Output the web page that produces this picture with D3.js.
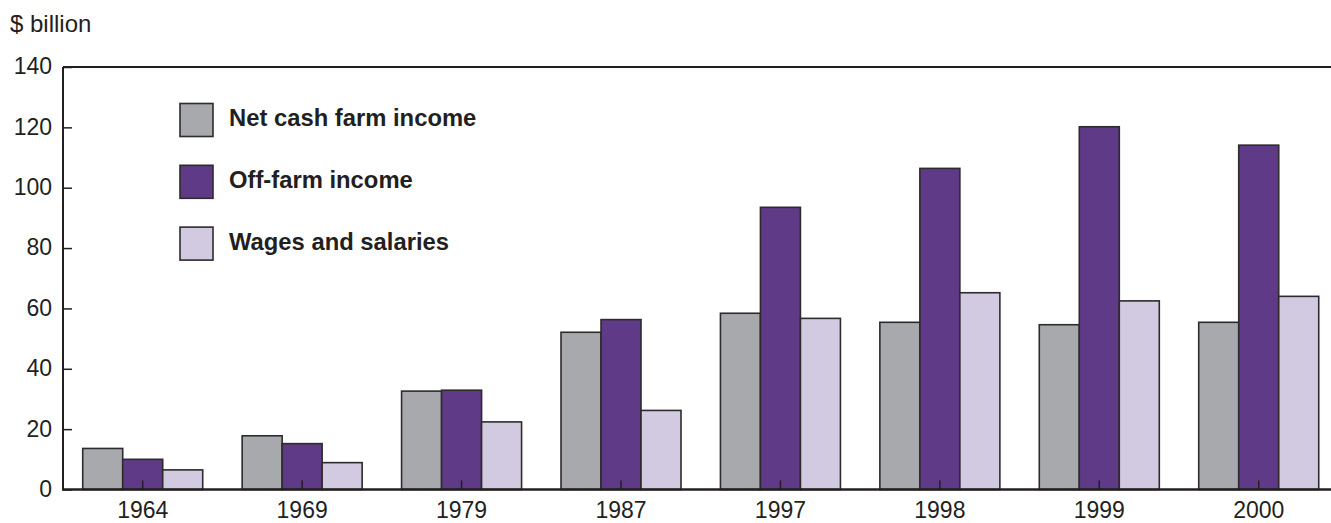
<!DOCTYPE html>
<html>
<head>
<meta charset="utf-8">
<script src="https://cdn.jsdelivr.net/npm/d3@7"></script>
<style>
  html, body { margin: 0; padding: 0; background: #fff; }
  svg { display: block; font-family: "Liberation Sans", Arial, Helvetica, sans-serif; }
</style>
</head>
<body>
<svg id="chart" width="1331" height="523"></svg>
<script>
const years = ["1964", "1969", "1979", "1987", "1997", "1998", "1999", "2000"];
const seriesNames = ["Net cash farm income", "Off-farm income", "Wages and salaries"];
const netCashFarmIncome = [13.6, 17.8, 32.6, 52.1, 58.4, 55.4, 54.6, 55.4];
const offFarmIncome     = [10.0, 15.2, 32.9, 56.3, 93.5, 106.4, 120.2, 114.1];
const wagesAndSalaries  = [6.5, 8.9, 22.4, 26.2, 56.7, 65.2, 62.5, 64.0];
const yTicks = [0, 20, 40, 60, 80, 100, 120, 140];
const colors = ["#a8a9ad", "#5e3a87", "#d2cae0"];

(function () {
const seriesValues = [netCashFarmIncome, offFarmIncome, wagesAndSalaries];
const data = years.map((yr, i) => ({
  year: yr,
  values: seriesNames.map((s, j) => ({ key: s, value: seriesValues[j][i], idx: j }))
}));

const svg = d3.select("#chart");
const mLeft = 63, mTop = 67, mBottom = 489.5;
const step = 159.43;
const mRight = mLeft + step * years.length;

const x0 = d3.scaleBand().domain(years).range([mLeft, mRight]).padding(0);
const groupW = 120;
const x1 = d3.scaleBand().domain(seriesNames)
  .range([(x0.bandwidth() - groupW) / 2, (x0.bandwidth() + groupW) / 2]).padding(0);
const y = d3.scaleLinear().domain([0, 140]).range([mBottom, mTop]);

const ink = "#231f20";

// bars
const groups = svg.append("g").selectAll("g").data(data).join("g")
  .attr("transform", d => `translate(${x0(d.year)},0)`);
groups.selectAll("rect").data(d => d.values).join("rect")
  .attr("x", d => x1(d.key))
  .attr("y", d => y(d.value))
  .attr("width", x1.bandwidth())
  .attr("height", d => y(0) - y(d.value))
  .attr("fill", d => colors[d.idx])
  .attr("stroke", "#2e2b2c")
  .attr("stroke-width", 1.6);

// y axis
const yAxis = d3.axisLeft(y).tickValues(yTicks).tickSize(-9).tickPadding(11).tickFormat(d3.format("d"));
const gy = svg.append("g").attr("transform", `translate(${mLeft},0)`).call(yAxis);
gy.select(".domain").remove();
gy.selectAll(".tick line").attr("stroke", ink).attr("stroke-width", 1.5);
gy.selectAll(".tick text").attr("x", -11).attr("fill", ink).style("font-size", "23px")
  .attr("dy", "0.3em");

// x axis
const xAxis = d3.axisBottom(x0).tickSize(-9).tickPadding(0);
const gx = svg.append("g").attr("transform", `translate(0,${mBottom})`).call(xAxis);
gx.select(".domain").remove();
gx.selectAll(".tick line").attr("stroke", ink).attr("stroke-width", 1.5);
gx.selectAll(".tick text").attr("fill", ink).style("font-size", "23px")
  .attr("y", 28.8).attr("dy", null);

// frame lines
svg.append("line").attr("x1", mLeft).attr("x2", 1331).attr("y1", mTop).attr("y2", mTop)
  .attr("stroke", ink).attr("stroke-width", 2);
svg.append("line").attr("x1", mLeft).attr("x2", mLeft).attr("y1", mTop).attr("y2", mBottom)
  .attr("stroke", ink).attr("stroke-width", 2);
svg.append("line").attr("x1", mLeft - 1).attr("x2", 1331).attr("y1", mBottom).attr("y2", mBottom)
  .attr("stroke", ink).attr("stroke-width", 2.5);

// y unit label
svg.append("text").attr("x", 10).attr("y", 32).attr("fill", ink)
  .style("font-size", "24px").text("$ billion");

// legend
const legend = svg.append("g").attr("transform", "translate(180,103.5)");
const li = legend.selectAll("g").data(seriesNames).join("g")
  .attr("transform", (d, i) => `translate(0,${i * 61.8})`);
li.append("rect").attr("width", 33).attr("height", 33)
  .attr("fill", (d, i) => colors[i]).attr("stroke", "#2e2b2c").attr("stroke-width", 1.6);
li.append("text").attr("x", 49).attr("y", 22.5)
  .attr("fill", ink).style("font-size", "23.8px").style("font-weight", "bold")
  .text(d => d);
})();
</script>
</body>
</html>
